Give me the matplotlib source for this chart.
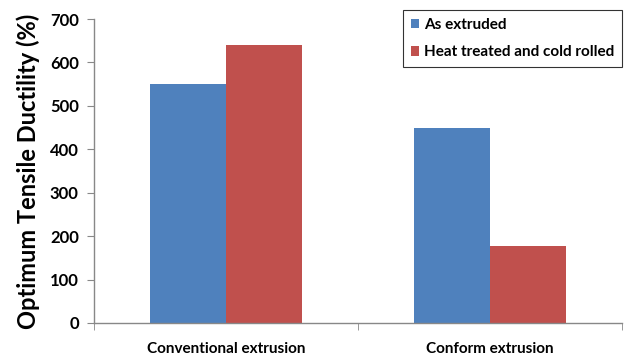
import matplotlib.pyplot as plt
import numpy as np

categories = ["Conventional extrusion", "Conform extrusion"]
as_extruded = [550, 450]
heat_treated = [640, 178]
series_labels = ["As extruded", "Heat treated and cold rolled"]
y_ticks = [0, 100, 200, 300, 400, 500, 600, 700]

BLUE = "#4F81BD"
RED = "#C0504D"

plt.rcParams["font.family"] = ["Lato", "DejaVu Sans"]

fig = plt.figure(figsize=(6.27, 3.6), dpi=100)
ax = fig.add_axes([0.150, 0.103, 0.842, 0.844])

x = np.arange(len(categories))
width = 0.288
ax.bar(x - width / 2, as_extruded, width, color=BLUE, label=series_labels[0])
ax.bar(x + width / 2, heat_treated, width, color=RED, label=series_labels[1])

ax.set_xlim(-0.5, len(categories) - 0.5)
ax.set_ylim(0, 700)
ax.set_yticks(y_ticks)
ax.set_yticklabels([str(t) for t in y_ticks], fontsize=12, fontweight="bold")

ax.set_xticks(x)
ax.set_xticklabels(categories, fontsize=11, fontweight="bold")
ax.tick_params(axis="x", which="major", length=0, pad=14)
ax.set_xticks(np.arange(-0.5, len(categories)), minor=True)
ax.tick_params(axis="x", which="minor", length=5, color="#888888")
ax.tick_params(axis="y", length=5, color="#888888", pad=6)

ax.set_ylabel("Optimum Tensile Ductility (%)", fontsize=17, fontweight="bold", labelpad=7)

for side in ("top", "right"):
    ax.spines[side].set_visible(False)
for side in ("left", "bottom"):
    ax.spines[side].set_color("#888888")
    ax.spines[side].set_linewidth(1.0)

leg = ax.legend(loc="upper left", bbox_to_anchor=(403 / 627, 1 - 10 / 360),
                bbox_transform=fig.transFigure, frameon=True, fancybox=False,
                handlelength=0.55, handleheight=0.55, handletextpad=0.3,
                labelspacing=0.9, borderpad=0.5, borderaxespad=0,
                prop={"weight": "bold", "size": 11})
leg.get_frame().set_edgecolor("black")
leg.get_frame().set_linewidth(0.8)

fig.savefig("out.png", dpi=100)
